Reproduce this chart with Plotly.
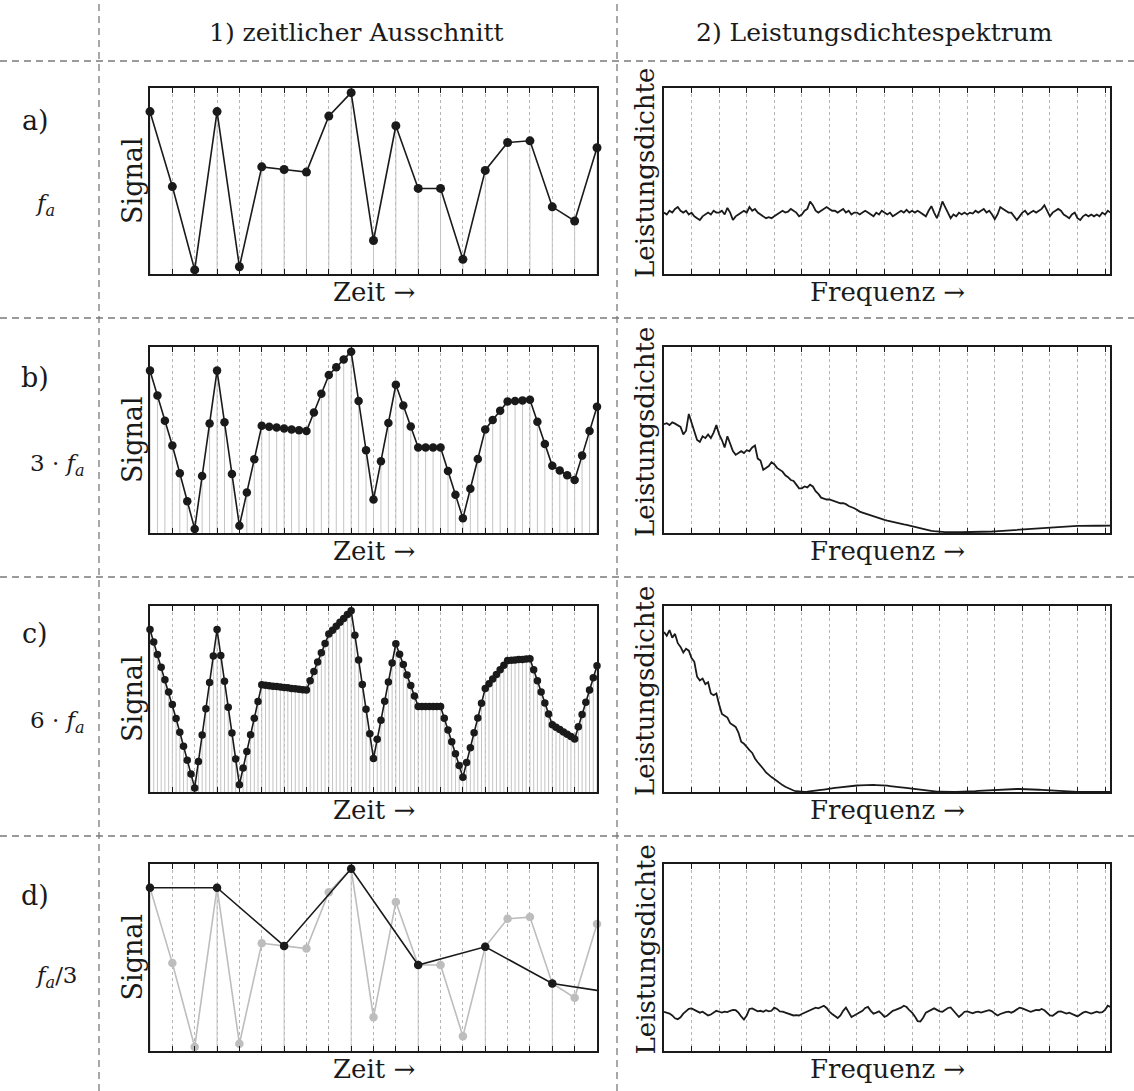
import numpy as np
import plotly.graph_objects as go
from plotly.subplots import make_subplots

W, H = 1134, 1091

# ---------------- data (normalized to plot height) -------------
t_a = list(range(21))
sig_a = [0.873, 0.470, 0.022, 0.873, 0.039, 0.576, 0.562, 0.548, 0.849, 0.975, 0.180,
         0.797, 0.460, 0.460, 0.079, 0.557, 0.707, 0.716, 0.361, 0.285, 0.679]

t_b = [i / 3 for i in range(61)]
sig_b = [0.873, 0.739, 0.604, 0.470, 0.321, 0.171, 0.022, 0.306, 0.589, 0.873, 0.595, 0.317,
         0.039, 0.218, 0.397, 0.576, 0.571, 0.567, 0.562, 0.557, 0.553, 0.548, 0.648, 0.749,
         0.849, 0.891, 0.933, 0.975, 0.710, 0.445, 0.180, 0.386, 0.591, 0.797, 0.685, 0.572,
         0.460, 0.460, 0.460, 0.460, 0.333, 0.206, 0.079, 0.238, 0.398, 0.557, 0.607, 0.657,
         0.707, 0.710, 0.713, 0.716, 0.598, 0.479, 0.361, 0.336, 0.310, 0.285, 0.416, 0.548,
         0.679]

t_c = [i / 6 for i in range(121)]
sig_c = [0.873, 0.806, 0.739, 0.671, 0.604, 0.537,
         0.470, 0.395, 0.321, 0.246, 0.171, 0.097,
         0.022, 0.164, 0.306, 0.448, 0.589, 0.731,
         0.873, 0.734, 0.595, 0.456, 0.317, 0.178,
         0.039, 0.129, 0.218, 0.308, 0.397, 0.487,
         0.576, 0.574, 0.571, 0.569, 0.567, 0.564,
         0.562, 0.560, 0.557, 0.555, 0.553, 0.550,
         0.548, 0.598, 0.648, 0.699, 0.749, 0.799,
         0.849, 0.870, 0.891, 0.912, 0.933, 0.954,
         0.975, 0.843, 0.710, 0.578, 0.445, 0.313,
         0.180, 0.283, 0.386, 0.488, 0.591, 0.694,
         0.797, 0.741, 0.685, 0.629, 0.572, 0.516,
         0.460, 0.460, 0.460, 0.460, 0.460, 0.460,
         0.460, 0.397, 0.333, 0.270, 0.206, 0.143,
         0.079, 0.159, 0.238, 0.318, 0.398, 0.477,
         0.557, 0.582, 0.607, 0.632, 0.657, 0.682,
         0.707, 0.709, 0.710, 0.712, 0.713, 0.715,
         0.716, 0.657, 0.598, 0.538, 0.479, 0.420,
         0.361, 0.348, 0.336, 0.323, 0.310, 0.298,
         0.285, 0.351, 0.416, 0.482, 0.548, 0.614,
         0.679]

t_d = [0, 3, 6, 9, 12, 15, 18]
sig_d = [0.873, 0.873, 0.562, 0.975, 0.460, 0.557, 0.361]
t_d_end = 20
sig_d_end = 0.324

# power spectral density curves (frequency step 0.1 grid unit)
psd_a = [0.33, 0.32, 0.34, 0.33, 0.35, 0.36, 0.34, 0.33, 0.34, 0.32,
         0.33, 0.31, 0.30, 0.29, 0.31, 0.32, 0.33, 0.32, 0.34, 0.33,
         0.33, 0.34, 0.32, 0.355, 0.33, 0.29, 0.31, 0.32, 0.33, 0.34,
         0.33, 0.36, 0.34, 0.35, 0.33, 0.32, 0.31, 0.30, 0.305, 0.30,
         0.31, 0.32, 0.33, 0.34, 0.33, 0.335, 0.35, 0.34, 0.33, 0.31,
         0.32, 0.34, 0.35, 0.39, 0.37, 0.34, 0.33, 0.34, 0.35, 0.36,
         0.35, 0.34, 0.34, 0.33, 0.34, 0.35, 0.33, 0.34, 0.32, 0.33,
         0.33, 0.32, 0.33, 0.34, 0.33, 0.32, 0.31, 0.33, 0.32, 0.34,
         0.33, 0.32, 0.33, 0.31, 0.32, 0.33, 0.34, 0.33, 0.345, 0.33,
         0.34, 0.33, 0.34, 0.33, 0.32, 0.31, 0.34, 0.365, 0.33, 0.30,
         0.34, 0.39, 0.36, 0.33, 0.30, 0.32, 0.31, 0.33, 0.32, 0.33,
         0.32, 0.33, 0.325, 0.34, 0.33, 0.34, 0.35, 0.33, 0.34, 0.32,
         0.295, 0.32, 0.36, 0.35, 0.34, 0.33, 0.33, 0.31, 0.29, 0.31,
         0.33, 0.34, 0.32, 0.33, 0.34, 0.33, 0.34, 0.35, 0.37, 0.34,
         0.31, 0.33, 0.34, 0.35, 0.34, 0.32, 0.31, 0.30, 0.32, 0.33,
         0.30, 0.29, 0.31, 0.32, 0.31, 0.32, 0.31, 0.32, 0.31, 0.33,
         0.32, 0.34, 0.33]

psd_b = [0.585, 0.590, 0.580, 0.595, 0.588, 0.580, 0.570, 0.530, 0.550, 0.640,
         0.590, 0.550, 0.500, 0.490, 0.520, 0.510, 0.530, 0.510, 0.540, 0.580,
         0.530, 0.500, 0.460, 0.520, 0.480, 0.440, 0.420, 0.430, 0.440, 0.430,
         0.445, 0.440, 0.460, 0.470, 0.400, 0.390, 0.340, 0.350, 0.360, 0.380,
         0.370, 0.350, 0.340, 0.330, 0.310, 0.300, 0.285, 0.280, 0.260, 0.240,
         0.240, 0.250, 0.245, 0.260, 0.250, 0.225, 0.210, 0.190, 0.185, 0.180,
         0.180, 0.175, 0.170, 0.165, 0.160, 0.160, 0.155, 0.145, 0.140, 0.133,
         0.125, 0.115, 0.110, 0.105, 0.098, 0.092, 0.088, 0.082, 0.078, 0.074,
         0.071, 0.067, 0.063, 0.058, 0.055, 0.052, 0.049, 0.046, 0.044, 0.040,
         0.036, 0.032, 0.028, 0.024, 0.020, 0.018, 0.015, 0.012, 0.010, 0.008,
         0.007, 0.006, 0.005, 0.005, 0.004, 0.004, 0.004, 0.004, 0.004, 0.004,
         0.004, 0.004, 0.004, 0.005, 0.005, 0.005, 0.006, 0.006, 0.007, 0.008,
         0.009, 0.010, 0.011, 0.012, 0.013, 0.014, 0.015, 0.017, 0.018, 0.020,
         0.021, 0.022, 0.023, 0.024, 0.025, 0.026, 0.027, 0.028, 0.029, 0.030,
         0.030, 0.031, 0.032, 0.033, 0.033, 0.034, 0.035, 0.036, 0.037, 0.037,
         0.038, 0.038, 0.039, 0.039, 0.039, 0.039, 0.039, 0.040, 0.039, 0.039,
         0.040, 0.040, 0.040]

psd_c = [0.860, 0.840, 0.870, 0.830, 0.850, 0.800, 0.780, 0.750, 0.770, 0.760,
         0.720, 0.700, 0.620, 0.600, 0.610, 0.580, 0.590, 0.530, 0.520, 0.530,
         0.470, 0.420, 0.410, 0.400, 0.370, 0.360, 0.350, 0.320, 0.270, 0.260,
         0.240, 0.225, 0.210, 0.180, 0.160, 0.145, 0.125, 0.105, 0.090, 0.080,
         0.070, 0.058, 0.047, 0.037, 0.028, 0.020, 0.013, 0.008, 0.004, 0.002,
         0.001, 0.001, 0.002, 0.003, 0.005, 0.007, 0.009, 0.011, 0.013, 0.016,
         0.018, 0.020, 0.022, 0.024, 0.026, 0.028, 0.029, 0.031, 0.032, 0.034,
         0.035, 0.036, 0.037, 0.037, 0.038, 0.038, 0.038, 0.037, 0.037, 0.036,
         0.035, 0.034, 0.032, 0.031, 0.029, 0.027, 0.025, 0.023, 0.021, 0.019,
         0.017, 0.015, 0.012, 0.010, 0.008, 0.006, 0.005, 0.004, 0.003, 0.002,
         0.002, 0.001, 0.001, 0.001, 0.001, 0.001, 0.001, 0.001, 0.002, 0.002,
         0.002, 0.003, 0.004, 0.005, 0.006, 0.007, 0.008, 0.009, 0.010, 0.011,
         0.012, 0.013, 0.014, 0.014, 0.015, 0.016, 0.016, 0.016, 0.016, 0.016,
         0.016, 0.016, 0.015, 0.015, 0.014, 0.013, 0.012, 0.011, 0.010, 0.009,
         0.008, 0.007, 0.006, 0.005, 0.004, 0.003, 0.003, 0.002, 0.002, 0.001,
         0.001, 0.001, 0.001, 0.001, 0.001, 0.001, 0.001, 0.001, 0.001, 0.001,
         0.001, 0.001, 0.001]

psd_d = [0.210, 0.205, 0.200, 0.190, 0.175, 0.170, 0.180, 0.200, 0.215, 0.225,
         0.228, 0.220, 0.212, 0.205, 0.210, 0.200, 0.190, 0.195, 0.205, 0.215,
         0.210, 0.205, 0.210, 0.208, 0.215, 0.220, 0.218, 0.205, 0.185, 0.168,
         0.190, 0.225, 0.228, 0.220, 0.212, 0.215, 0.210, 0.218, 0.212, 0.215,
         0.232, 0.225, 0.212, 0.210, 0.205, 0.200, 0.195, 0.190, 0.192, 0.190,
         0.198, 0.205, 0.210, 0.220, 0.225, 0.232, 0.228, 0.235, 0.242, 0.230,
         0.210, 0.198, 0.185, 0.176, 0.190, 0.215, 0.232, 0.210, 0.182, 0.190,
         0.198, 0.205, 0.215, 0.230, 0.236, 0.215, 0.200, 0.205, 0.212, 0.198,
         0.182, 0.190, 0.205, 0.215, 0.220, 0.225, 0.232, 0.242, 0.235, 0.218,
         0.205, 0.185, 0.160, 0.158, 0.178, 0.205, 0.212, 0.222, 0.228, 0.220,
         0.212, 0.210, 0.220, 0.230, 0.233, 0.215, 0.200, 0.182, 0.195, 0.210,
         0.212, 0.205, 0.202, 0.208, 0.210, 0.205, 0.212, 0.215, 0.218, 0.212,
         0.200, 0.190, 0.198, 0.205, 0.208, 0.210, 0.205, 0.212, 0.222, 0.232,
         0.228, 0.222, 0.215, 0.210, 0.215, 0.220, 0.218, 0.225, 0.218, 0.205,
         0.190, 0.188, 0.198, 0.210, 0.212, 0.205, 0.200, 0.205, 0.198, 0.190,
         0.185, 0.195, 0.205, 0.210, 0.205, 0.200, 0.205, 0.210, 0.205, 0.208,
         0.220, 0.242, 0.235]

freq = [round(0.1 * i, 1) for i in range(163)]

row_letters = ["a)", "b)", "c)", "d)"]
row_rates = ["<i>f<sub>a</sub></i>", "3 · <i>f<sub>a</sub></i>", "6 · <i>f<sub>a</sub></i>",
             "<i>f<sub>a</sub></i>/3"]
col_heads = ["1) zeitlicher Ausschnitt", "2) Leistungsdichtespektrum"]

# ---------------- layout geometry (pixels) ----------------
FONT = "DejaVu Serif"
INK = "#1a1a1a"
STEM = "#c4c4c4"
rows_px = [(88, 274), (347, 533), (606, 792), (864, 1051)]
col1_px = (150, 597)
col2_px = (664, 1110)


def px(x):
    return x / W


def py(y):
    return 1 - y / H


fig = make_subplots(rows=4, cols=2)


def stems(xs, ys):
    sx, sy = [], []
    for x, y in zip(xs, ys):
        sx += [x, x, None]
        sy += [0, y, None]
    return sx, sy


time_sets = [(t_a, sig_a, 9), (t_b, sig_b, 8.5), (t_c, sig_c, 7.5)]
for r, (tx, sy_, ms) in enumerate(time_sets, start=1):
    sx, ssy = stems(tx, sy_)
    fig.add_trace(go.Scatter(x=sx, y=ssy, mode="lines", line=dict(color=STEM, width=1),
                             hoverinfo="skip"), row=r, col=1)
    fig.add_trace(go.Scatter(x=tx, y=sy_, mode="lines+markers", cliponaxis=False,
                             line=dict(color=INK, width=1.6),
                             marker=dict(color=INK, size=ms)), row=r, col=1)

# row d
sx, ssy = stems(t_d, sig_d)
fig.add_trace(go.Scatter(x=sx, y=ssy, mode="lines", line=dict(color=STEM, width=1),
                         hoverinfo="skip"), row=4, col=1)
fig.add_trace(go.Scatter(x=t_a, y=sig_a, mode="lines+markers", cliponaxis=False,
                         line=dict(color="#bdbdbd", width=1.6),
                         marker=dict(color="#bdbdbd", size=8.5)), row=4, col=1)
fig.add_trace(go.Scatter(x=t_d + [t_d_end], y=sig_d + [sig_d_end], mode="lines",
                         line=dict(color=INK, width=1.6)), row=4, col=1)
fig.add_trace(go.Scatter(x=t_d, y=sig_d, mode="markers", cliponaxis=False,
                         marker=dict(color=INK, size=8.5)), row=4, col=1)

for r, ps in enumerate([psd_a, psd_b, psd_c, psd_d], start=1):
    fig.add_trace(go.Scatter(x=freq, y=ps, mode="lines",
                             line=dict(color=INK, width=1.8)), row=r, col=2)

# axes styling
for r in range(1, 5):
    top, bot = rows_px[r - 1]
    ydom = [py(bot), py(top)]
    for c in (1, 2):
        xp = col1_px if c == 1 else col2_px
        if c == 1:
            xr = [0, 20]
            tv = list(range(21))
        else:
            xr = [0, 16.18]
            tv = list(range(17))
        fig.update_xaxes(row=r, col=c, domain=[px(xp[0]), px(xp[1])], range=xr,
                         tickvals=tv, showticklabels=False, ticks="inside", ticklen=5,
                         tickwidth=1, tickcolor=INK, showgrid=True, gridcolor="#b5b5b5",
                         griddash="dot", gridwidth=1, zeroline=False, showline=True,
                         linecolor=INK, linewidth=1.5, mirror="ticks")
        fig.update_yaxes(row=r, col=c, domain=ydom, range=[0, 1], showticklabels=False,
                         ticks="", showgrid=False, zeroline=False, showline=True,
                         linecolor=INK, linewidth=1.5, mirror=True)

ann = []
# column headers
ann.append(dict(x=px(356), y=py(32), text=col_heads[0], font=dict(size=25)))
ann.append(dict(x=px(874), y=py(32), text=col_heads[1], font=dict(size=25)))

letter_y = [120, 378, 633, 895]
rate_y = [205, 465, 722, 977]
rate_x = [45, 57, 57, 56]
for i in range(4):
    ann.append(dict(x=px(35), y=py(letter_y[i]), text=row_letters[i], font=dict(size=27)))
    ann.append(dict(x=px(rate_x[i]), y=py(rate_y[i]), text=row_rates[i], font=dict(size=23)))
    top, bot = rows_px[i]
    mid = (top + bot) / 2
    ann.append(dict(x=px(132), y=py(mid), text="Signal", textangle=-90, font=dict(size=27)))
    ann.append(dict(x=px(645), y=py(mid - 8), text="Leistungsdichte", textangle=-90,
                    font=dict(size=26)))
    ann.append(dict(x=px((col1_px[0] + col1_px[1]) / 2), y=py(bot + 18), text="Zeit →",
                    font=dict(size=26)))
    ann.append(dict(x=px((col2_px[0] + col2_px[1]) / 2), y=py(bot + 18), text="Frequenz →",
                    font=dict(size=26)))

for a in ann:
    a.update(xref="paper", yref="paper", showarrow=False, xanchor="center", yanchor="middle")
    a["font"].update(family=FONT, color=INK)

# dashed table lines
shapes = []
dash = dict(color="#7a7a7a", width=1.3, dash="7px,5px")
for yy in [61, 318, 577, 836]:
    shapes.append(dict(type="line", xref="paper", yref="paper", x0=0, x1=1, y0=py(yy), y1=py(yy),
                       line=dash))
for xx in [99, 617]:
    shapes.append(dict(type="line", xref="paper", yref="paper", x0=px(xx), x1=px(xx), y0=0, y1=1,
                       line=dash))

fig.update_layout(width=W, height=H, margin=dict(l=0, r=0, t=0, b=0), showlegend=False,
                  plot_bgcolor="white", paper_bgcolor="white", annotations=ann, shapes=shapes,
                  font=dict(family=FONT, color=INK))

fig.write_html("out.html")
